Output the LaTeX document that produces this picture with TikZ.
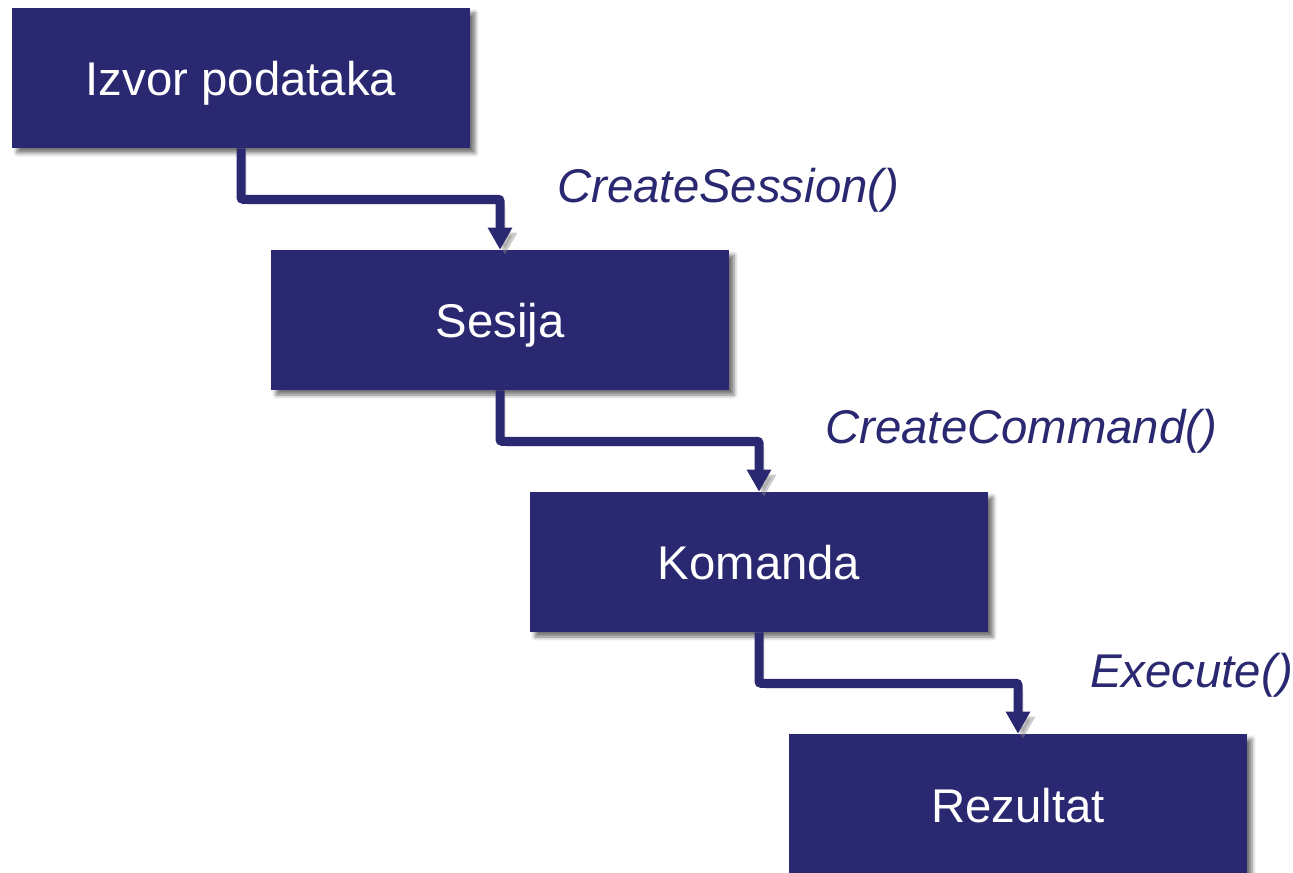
\documentclass[tikz,border=0pt]{standalone}
\usepackage{fontspec}
\setmainfont{Liberation Sans}
\usetikzlibrary{arrows.meta,shadows.blur}
\newlength\px
\setlength\px{0.75pt}
\definecolor{navy}{RGB}{41,40,112}
\tikzset{
  box/.style={fill=navy, text=white, minimum width=458\px, minimum height=140\px,
    inner sep=0pt, text height=27pt, text depth=0pt,
    font=\fontsize{35.5pt}{42pt}\selectfont,
    blur shadow={shadow xshift=5\px, shadow yshift=-5\px, shadow blur radius=4\px, shadow opacity=55}},
  call/.style={anchor=base west, inner sep=0pt, text=navy,
    font=\fontsize{35.5pt}{42pt}\selectfont\itshape},
  flow/.style={draw=navy, line width=6.75pt, rounded corners=1.5pt,
    -{Triangle[width=17.25pt, length=16.5pt]},
    preaction={draw=black!45, opacity=.45, transform canvas={shift={(3.75pt,-3.75pt)}}}}
}
\begin{document}
\begin{tikzpicture}[x=\px, y=-\px]
  \useasboundingbox (0,0) rectangle (1293,873);
  \node[box] at (241,78) (izvor) {Izvor podataka};
  \node[box] at (500,320) (sesija) {Sesija};
  \node[box] at (759,562) (komanda) {Komanda};
  \node[box] at (1018,804) (rezultat) {Rezultat};

  \draw[flow] (izvor.south) -- ++(0,51) -| (sesija.north);
  \draw[flow] (sesija.south) -- ++(0,51) -| (komanda.north);
  \draw[flow] (komanda.south) -- ++(0,51) -| (rezultat.north);

  \node[call] at (557,203) (csession) {CreateSession()};
  \node[call] at (825,444) (ccommand) {CreateCommand()};
  \node[call] at (1090,687) (cexecute) {Execute()};
\end{tikzpicture}
\end{document}
